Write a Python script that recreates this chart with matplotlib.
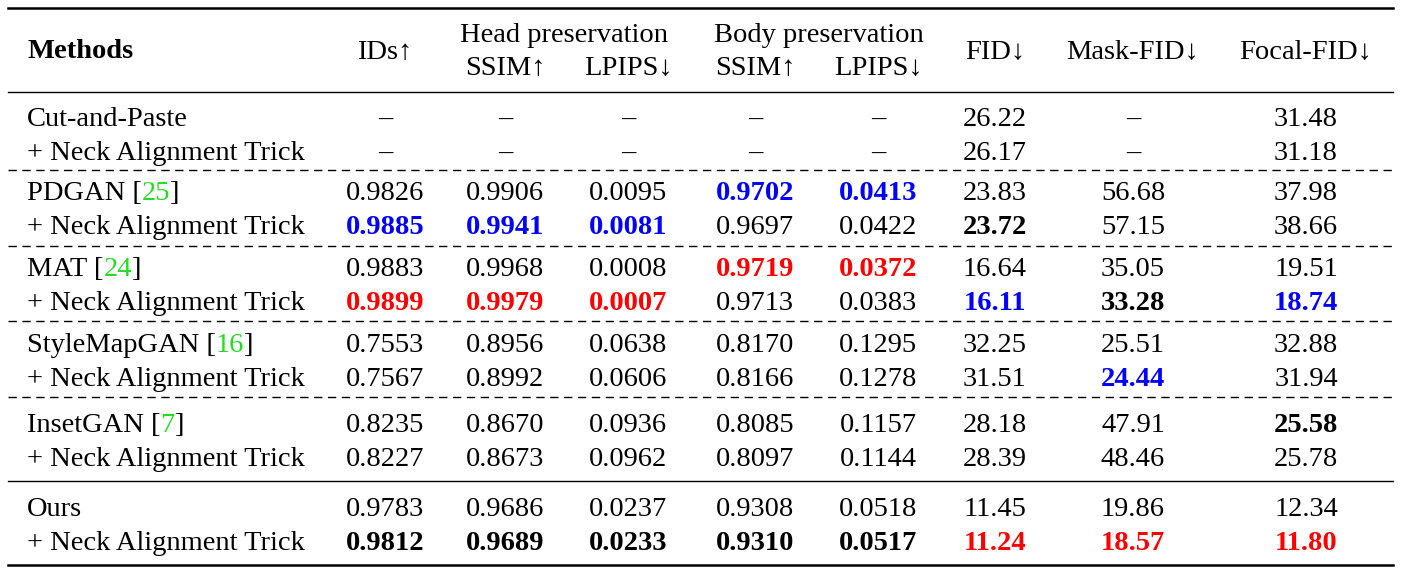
import matplotlib
matplotlib.use("Agg")
import matplotlib.pyplot as plt

plt.rcParams['font.family'] = ['Liberation Serif', 'DejaVu Serif']

methods = ["Cut-and-Paste", "+ Neck Alignment Trick", "PDGAN", "+ Neck Alignment Trick",
           "MAT", "+ Neck Alignment Trick", "StyleMapGAN", "+ Neck Alignment Trick",
           "InsetGAN", "+ Neck Alignment Trick", "Ours", "+ Neck Alignment Trick"]
cites = [None, None, "25", None, "24", None, "16", None, "7", None, None, None]
values = [
    ["–", "–", "–", "–", "–", "26.22", "–", "31.48"],
    ["–", "–", "–", "–", "–", "26.17", "–", "31.18"],
    ["0.9826", "0.9906", "0.0095", "0.9702", "0.0413", "23.83", "56.68", "37.98"],
    ["0.9885", "0.9941", "0.0081", "0.9697", "0.0422", "23.72", "57.15", "38.66"],
    ["0.9883", "0.9968", "0.0008", "0.9719", "0.0372", "16.64", "35.05", "19.51"],
    ["0.9899", "0.9979", "0.0007", "0.9713", "0.0383", "16.11", "33.28", "18.74"],
    ["0.7553", "0.8956", "0.0638", "0.8170", "0.1295", "32.25", "25.51", "32.88"],
    ["0.7567", "0.8992", "0.0606", "0.8166", "0.1278", "31.51", "24.44", "31.94"],
    ["0.8235", "0.8670", "0.0936", "0.8085", "0.1157", "28.18", "47.91", "25.58"],
    ["0.8227", "0.8673", "0.0962", "0.8097", "0.1144", "28.39", "48.46", "25.78"],
    ["0.9783", "0.9686", "0.0237", "0.9308", "0.0518", "11.45", "19.86", "12.34"],
    ["0.9812", "0.9689", "0.0233", "0.9310", "0.0517", "11.24", "18.57", "11.80"],
]
marks = [
    "nnnnnnnn", "nnnnnnnn",
    "nnnbbnnn", "bbbnnknn",
    "nnnrrnnn", "rrrnnbkb",
    "nnnnnnnn", "nnnnnnbn",
    "nnnnnnnk", "nnnnnnnn",
    "nnnnnnnn", "kkkkkrrr",
]

W, H = 1401, 576
fig = plt.figure(figsize=(W/100, H/100), dpi=100)
ax = fig.add_axes([0, 0, 1, 1])
ax.set_xlim(0, W); ax.set_ylim(H, 0); ax.axis('off')

fs = 20.5
dy = 3
colx = [385, 505, 628, 755, 878, 995, 1133, 1306]
rowy = [116, 150, 190, 225, 267, 300, 342, 376, 422, 457, 506, 540]
cmap = {'b': ('#0000ff', 'bold'), 'r': ('#ff0000', 'bold'), 'k': ('black', 'bold'), 'n': ('black', 'normal')}

# header
ax.text(27, 49 + dy, "Methods", fontsize=fs, fontweight='bold', va='center')
ax.text(colx[0], 49 + dy, "IDs↑", fontsize=fs, ha='center', va='center')
ax.text((colx[1]+colx[2])/2 - 3, 33 + dy, "Head preservation", fontsize=fs, ha='center', va='center')
ax.text((colx[3]+colx[4])/2 + 2, 33 + dy, "Body preservation", fontsize=fs, ha='center', va='center')
for x, s in zip(colx[1:5], ["SSIM↑", "LPIPS↓", "SSIM↑", "LPIPS↓"]):
    ax.text(x, 66 + dy, s, fontsize=fs, ha='center', va='center')
for x, s in zip(colx[5:], ["FID↓", "Mask-FID↓", "Focal-FID↓"]):
    ax.text(x, 49 + dy, s, fontsize=fs, ha='center', va='center')

# rules
ax.plot([8, 1393], [8, 8], color='black', lw=1.8)
ax.plot([8, 1393], [92, 92], color='black', lw=1.0)
for y in [170, 246, 321, 397]:
    ax.plot([8, 1393], [y, y], color='black', lw=1.0, ls=(0, (6, 4)))
ax.plot([8, 1393], [481, 481], color='black', lw=1.0)
ax.plot([8, 1393], [565, 565], color='black', lw=1.8)

fig.canvas.draw()
r = fig.canvas.get_renderer()
inv = ax.transData.inverted()

for i, (m, c, y) in enumerate(zip(methods, cites, rowy)):
    y = y + dy
    t = ax.text(27, y, m + (" [" if c else ""), fontsize=fs, va='center')
    if c:
        bb = t.get_window_extent(r)
        x1 = inv.transform((bb.x1, bb.y0))[0]
        t2 = ax.text(x1, y, c, fontsize=fs, va='center', color='#22dd22')
        bb2 = t2.get_window_extent(r)
        x2 = inv.transform((bb2.x1, bb2.y0))[0]
        ax.text(x2, y, "]", fontsize=fs, va='center')
    for j, v in enumerate(values[i]):
        col, wt = cmap[marks[i][j]]
        ax.text(colx[j], y, v, fontsize=fs, ha='center', va='center', color=col, fontweight=wt)

fig.savefig("out.png", dpi=100)
